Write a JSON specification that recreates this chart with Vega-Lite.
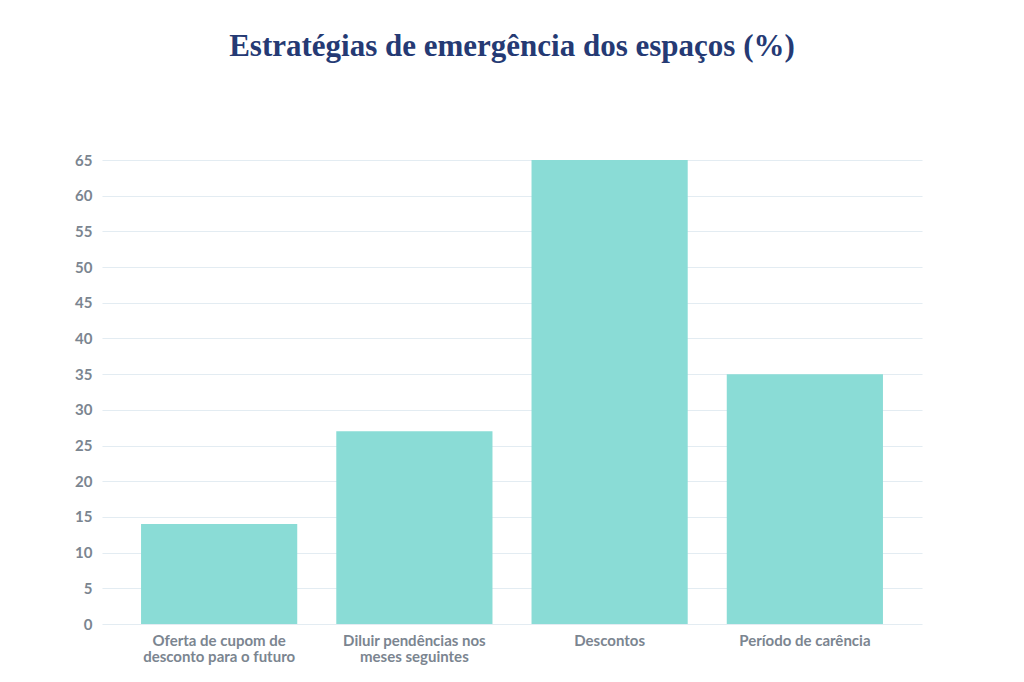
{
  "$schema": "https://vega.github.io/schema/vega-lite/v6.json",
  "width": 820,
  "height": 464,
  "autosize": {"type": "none"},
  "padding": {"left": 102, "top": 160, "right": 102, "bottom": 58},
  "background": "white",
  "title": {
    "text": "Estratégias de emergência dos espaços (%)",
    "font": "Liberation Serif",
    "fontSize": 31,
    "fontWeight": "bold",
    "color": "#253a74",
    "anchor": "middle",
    "offset": 90
  },
  "data": {
    "values": [
      {"estrategia": "Oferta de cupom de desconto para o futuro", "valor": 14},
      {"estrategia": "Diluir pendências nos meses seguintes", "valor": 27},
      {"estrategia": "Descontos", "valor": 65},
      {"estrategia": "Período de carência", "valor": 35}
    ]
  },
  "mark": {"type": "bar", "color": "#8adcd6"},
  "encoding": {
    "x": {
      "field": "estrategia",
      "type": "nominal",
      "sort": null,
      "scale": {"paddingInner": 0.2, "paddingOuter": 0.2},
      "axis": {
        "title": null,
        "labelAngle": 0,
        "labelExpr": "datum.label == 'Oferta de cupom de desconto para o futuro' ? ['Oferta de cupom de', 'desconto para o futuro'] : datum.label == 'Diluir pendências nos meses seguintes' ? ['Diluir pendências nos', 'meses seguintes'] : datum.label",
        "labelFont": "Lato",
        "labelFontWeight": "bold",
        "labelFontSize": 15,
        "labelColor": "#7b8590",
        "labelPadding": 9,
        "labelLineHeight": 16,
        "ticks": false,
        "domain": false
      }
    },
    "y": {
      "field": "valor",
      "type": "quantitative",
      "scale": {"domain": [0, 65], "nice": false},
      "axis": {
        "title": null,
        "values": [0, 5, 10, 15, 20, 25, 30, 35, 40, 45, 50, 55, 60, 65],
        "labelFont": "Lato",
        "labelFontWeight": "bold",
        "labelFontSize": 15,
        "labelColor": "#7b8590",
        "labelPadding": 10,
        "ticks": false,
        "domain": false,
        "gridColor": "#e3ecf2",
        "gridWidth": 1.2
      }
    }
  },
  "config": {"view": {"stroke": null}}
}
